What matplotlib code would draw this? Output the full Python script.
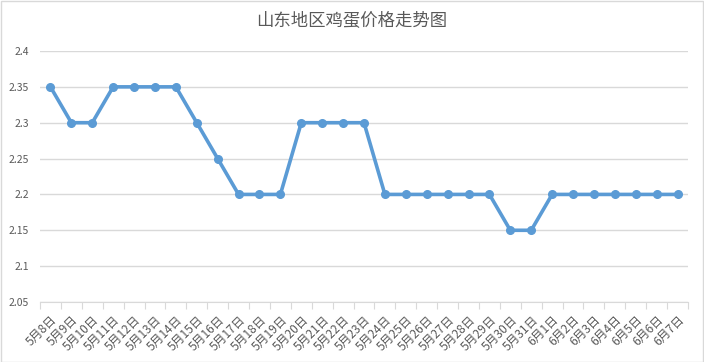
import matplotlib
matplotlib.use("Agg")
import matplotlib.pyplot as plt
from matplotlib.patches import Rectangle

plt.rcParams['font.family'] = ['Noto Sans CJK SC', 'DejaVu Sans']

dates = ["5月8日", "5月9日", "5月10日", "5月11日", "5月12日", "5月13日", "5月14日",
         "5月15日", "5月16日", "5月17日", "5月18日", "5月19日", "5月20日", "5月21日",
         "5月22日", "5月23日", "5月24日", "5月25日", "5月26日", "5月27日", "5月28日",
         "5月29日", "5月30日", "5月31日", "6月1日", "6月2日", "6月3日", "6月4日",
         "6月5日", "6月6日", "6月7日"]
prices = [2.35, 2.30, 2.30, 2.35, 2.35, 2.35, 2.35, 2.30, 2.25, 2.20, 2.20, 2.20,
          2.30, 2.30, 2.30, 2.30, 2.20, 2.20, 2.20, 2.20, 2.20, 2.20, 2.15, 2.15,
          2.20, 2.20, 2.20, 2.20, 2.20, 2.20, 2.20]
yticks = [2.05, 2.1, 2.15, 2.2, 2.25, 2.3, 2.35, 2.4]
ytick_labels = ["2.05", "2.1", "2.15", "2.2", "2.25", "2.3", "2.35", "2.4"]
title = "山东地区鸡蛋价格走势图"

W, H = 704, 362
fig = plt.figure(figsize=(W / 100, H / 100), dpi=100)
fig.patches.append(Rectangle((0.5 / W, 0.5 / H), 1 - 1.5 / W, 1 - 1.5 / H,
                             transform=fig.transFigure, fill=False,
                             edgecolor="#D9D9D9", linewidth=1))

ax = fig.add_axes([40 / W, 1 - 302 / H, 648 / W, 251 / H])
n = len(dates)
x = list(range(n))
ax.plot(x, prices, color="#5B9BD5", linewidth=2.6, marker="o", markersize=5.5,
        zorder=3, solid_capstyle="round")
ax.set_xlim(-0.5, n - 0.5)
ax.set_ylim(2.05, 2.4)
ax.set_yticks(yticks)
ax.set_yticklabels(ytick_labels)
ax.grid(axis="y", color="#D9D9D9", linewidth=1)
ax.set_axisbelow(True)
for s in ["left", "right", "top"]:
    ax.spines[s].set_visible(False)
ax.spines["bottom"].set_color("#D9D9D9")
ax.tick_params(axis="y", length=0, pad=8, labelsize=7.5, labelcolor="#595959")

ax.set_xticks([i - 0.5 for i in range(n + 1)])
ax.set_xticklabels([])
ax.tick_params(axis="x", which="major", length=5, color="#D9D9D9", direction="out")
ax.set_xticks(x, minor=True)
ax.set_xticklabels(dates, minor=True, rotation=45, ha="right", va="top",
                   rotation_mode="anchor")
ax.tick_params(axis="x", which="minor", length=0, pad=8, labelsize=8.6,
               labelcolor="#595959")

fig.text(0.5, 1 - 21 / H, title, ha="center", va="center", fontsize=12.5,
         color="#595959")

fig.savefig("out.png", dpi=100)
